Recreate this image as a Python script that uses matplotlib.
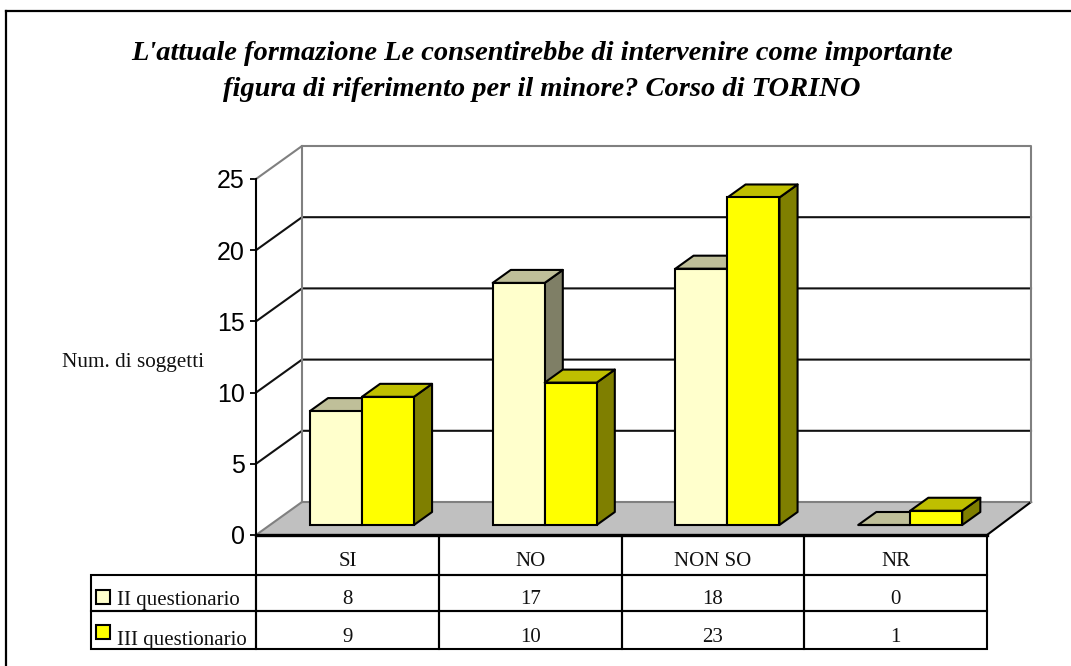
import matplotlib
matplotlib.use("Agg")
import matplotlib.pyplot as plt
from matplotlib.patches import Polygon, Rectangle
from matplotlib.transforms import Affine2D

categories = ["SI", "NO", "NON SO", "NR"]
series_names = ["II questionario", "III questionario"]
series_ii = [8, 17, 18, 0]
series_iii = [9, 10, 23, 1]
y_ticks = [0, 5, 10, 15, 20, 25]

front_colors = ["#FFFFCC", "#FFFF00"]
top_colors = ["#BFBF99", "#BFBF00"]
side_colors = ["#7F7F66", "#7F7F00"]

W, H = 1071, 666
LW = 1.5

fig = plt.figure(figsize=(W / 100, H / 100), dpi=100, facecolor="white")
ax = fig.add_axes([256 / W, (H - 535) / H, 731 / W, 356 / H])
ax.set_xlim(0, 4)
ax.set_ylim(0, 25)
ax.set_facecolor("none")

# how far one unit of depth moves a point, in data units
DX = 46 / (731 / 4)
DY = 33 / (356 / 25)
BAR_W = 52 / (731 / 4)
BAR_START = 40 / (731 / 4)
BAR_D0 = 10 / 33
BAR_D1 = 23 / 33
WALL_R = 4 - 2 / (731 / 4)


def proj(x, v, d):
    return (x + d * DX, v + d * DY)


def px(x, y):
    # pixel position of the picture to data units
    return ((x - 256) / (731 / 4), (535 - y) / (356 / 25))


def quad(points, color, edge="black", lw=LW, z=3):
    ax.add_patch(Polygon(points, closed=True, facecolor=color, edgecolor=edge,
                         linewidth=lw, zorder=z, clip_on=False, joinstyle="round"))


# floor
quad([proj(0, 0, 0), proj(4, 0, 0), proj(WALL_R, 0, 1), proj(0, 0, 1)], "#C0C0C0", edge="none", z=1)
ax.plot(*zip(proj(0, 0, 0), proj(0, 0, 1)), color="#808080", lw=LW, zorder=2, clip_on=False)
ax.plot(*zip(proj(0, 0, 1), proj(WALL_R, 0, 1)), color="#808080", lw=LW, zorder=2, clip_on=False)
ax.plot(*zip(proj(4, 0, 0), proj(WALL_R, 0, 1)), color="black", lw=LW, zorder=2, clip_on=False)

# walls and gridlines
for v in y_ticks[1:-1]:
    ax.plot(*zip(proj(0, v, 0), proj(0, v, 1), proj(WALL_R, v, 1)), color="#111111", lw=LW, zorder=2, clip_on=False)
ax.plot(*zip(proj(0, 25, 0), proj(0, 25, 1), proj(WALL_R, 25, 1), proj(WALL_R, 0, 1)),
        color="#808080", lw=LW, zorder=2, clip_on=False)
ax.plot(*zip(proj(0, 25, 1), proj(0, 0, 1)), color="#808080", lw=LW, zorder=2, clip_on=False)

# bars
for s, values in enumerate([series_ii, series_iii]):
    for i, v in enumerate(values):
        x0 = i + BAR_START + s * BAR_W
        x1 = x0 + BAR_W
        quad([proj(x1, 0, BAR_D0), proj(x1, 0, BAR_D1), proj(x1, v, BAR_D1), proj(x1, v, BAR_D0)], side_colors[s])
        quad([proj(x0, v, BAR_D0), proj(x1, v, BAR_D0), proj(x1, v, BAR_D1), proj(x0, v, BAR_D1)], top_colors[s])
        ax.bar(proj(x0, 0, BAR_D0)[0], v, width=BAR_W, bottom=proj(x0, 0, BAR_D0)[1], align="edge",
               color=front_colors[s], edgecolor="black", linewidth=LW, zorder=3, clip_on=False)

# axes
ax.set_xticks([])
ax.set_yticks(y_ticks)
ax.set_yticklabels([str(t) for t in y_ticks], family="Liberation Sans", fontsize=18)
ax.tick_params(axis="y", length=4.5, width=1.3, pad=3.5, color="black")
for name in ["top", "right"]:
    ax.spines[name].set_visible(False)
ax.spines["left"].set_linewidth(LW)
ax.spines["bottom"].set_visible(False)
ax.plot([0, 4], [0, 0], color="black", lw=2.4, zorder=6, clip_on=False)

# data table below the chart, the bbox only counts the four value columns
cell_text = [series_ii, series_iii]
table = ax.table(
    cellText=[[str(v) for v in row] for row in cell_text],
    rowLabels=series_names,
    colLabels=categories,
    cellLoc="center",
    rowLoc="left",
    bbox=[0, -114 / 356, 1, 114 / 356],
)
table.auto_set_font_size(False)
heights = {0: 40 / 356, 1: 36 / 356, 2: 38 / 356}
# table text sits dead centre, the reference has it lower in the cell
text_shift = {0: -6, 1: -7, 2: -8}
label_shift = {1: -8, 2: -10}
for (r, c), cell in table.get_celld().items():
    cell.set_height(heights[r])
    cell.set_linewidth(LW)
    cell.set_facecolor("none")
    cell.set_text_props(family="Liberation Serif", fontsize=15, color="#111111")
    if c == -1:
        # this column is auto sized from its text and PAD
        cell.PAD = 0.1366
        cell.get_text().set_transform(Affine2D().translate(3.5, label_shift[r]))
    else:
        cell.set_width(1 / 4)
        cell.PAD = 0.02
        cell.get_text().set_transform(Affine2D().translate(0, text_shift[r]))

# legend keys inside the row labels
for s, top in enumerate([590, 625]):
    x, y = px(96, top + 14)
    w, h = px(110, top)
    ax.add_patch(Rectangle((x, y), w - x, h - y, facecolor=front_colors[s], edgecolor="black",
                           linewidth=LW, clip_on=False, zorder=7))

# outer frame
fig.add_artist(plt.Line2D([6 / W, 6 / W], [0, 1 - 11 / H], color="black", lw=1.6))
fig.add_artist(plt.Line2D([6 / W, 1], [1 - 11 / H, 1 - 11 / H], color="black", lw=1.6))

fig.text(542 / W, 1 - 53 / H, "L'attuale formazione Le consentirebbe di intervenire come importante",
         family="Liberation Serif", style="italic", weight="bold", fontsize=20.5, ha="center", va="center")
fig.text(542 / W, 1 - 89 / H, "figura di riferimento per il minore? Corso di TORINO",
         family="Liberation Serif", style="italic", weight="bold", fontsize=20.5, ha="center", va="center")
fig.text(62 / W, 1 - 363 / H, "Num. di soggetti", family="Liberation Serif", fontsize=15.3,
         color="#111111", ha="left", va="center")

fig.savefig("out.png", dpi=100)
